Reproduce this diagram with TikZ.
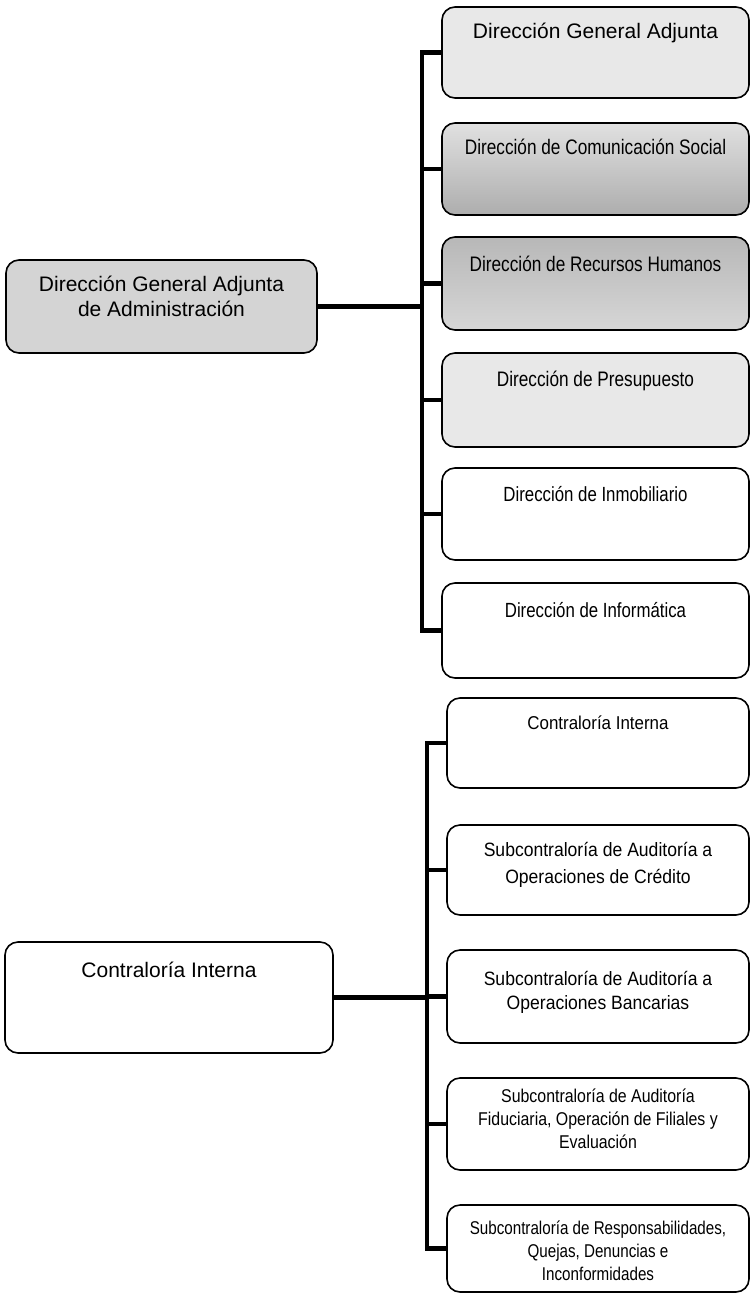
\documentclass[tikz,border=0pt]{standalone}
\usepackage{fontspec}
\setmainfont{Liberation Sans}
% narrow cuts of the same face
\newfontfamily\narrowA[FakeStretch=0.82]{Liberation Sans}
\newfontfamily\narrowB[FakeStretch=0.86]{Liberation Sans}
\newfontfamily\narrowC[FakeStretch=0.91]{Liberation Sans}
% text block placed at the top of a box: height, width, top gap, text
\newcommand\orgtext[4]{\parbox[c][#1][t]{#2}{\centering\vspace*{#3}#4\par}}
\newcommand\fs[2]{\fontsize{#1}{#2}\selectfont}
\begin{document}
\begin{tikzpicture}[x=1pt,y=-1pt,
  box/.style={draw=black, line width=1.6pt, rounded corners=13pt, inner sep=0pt, fill=white},
  link/.style={draw=black, line width=4.5pt},
  light/.style={fill=black!9},
  mid/.style={fill=black!17}]
\useasboundingbox (0,0) rectangle (752,1294);

% ---- Dirección General Adjunta de Administración ----
\node[box, mid, minimum width=311pt, minimum height=93pt] (l1) at (161.5,306.5)
  {\orgtext{93pt}{300pt}{16pt}{\fs{21}{25}Dirección General Adjunta\\de Administración}};

\node[box, light, minimum width=307pt, minimum height=91pt] (r1) at (595.5,52.5)
  {\orgtext{91pt}{300pt}{16pt}{\fs{21}{25}Dirección General Adjunta}};
\node[box, top color=black!12, bottom color=black!32, minimum width=307pt, minimum height=92pt] (r2) at (595.5,169)
  {\orgtext{92pt}{300pt}{16pt}{\narrowA\fs{21}{25}Dirección de Comunicación Social}};
\node[box, top color=black!28, bottom color=black!16, minimum width=307pt, minimum height=93pt] (r3) at (595.5,283.5)
  {\orgtext{93pt}{300pt}{19pt}{\narrowA\fs{21}{25}Dirección de Recursos Humanos}};
\node[box, light, minimum width=307pt, minimum height=94pt] (r4) at (595.5,400)
  {\orgtext{94pt}{300pt}{18pt}{\narrowA\fs{21}{25}Dirección de Presupuesto}};
\node[box, minimum width=307pt, minimum height=92pt] (r5) at (595.5,514)
  {\orgtext{92pt}{300pt}{18pt}{\narrowA\fs{20.5}{25}Dirección de Inmobiliario}};
\node[box, minimum width=307pt, minimum height=95pt] (r6) at (595.5,630.5)
  {\orgtext{95pt}{300pt}{19pt}{\narrowA\fs{20.5}{25}Dirección de Informática}};

\coordinate (bt) at (422,0);
\draw[link] (r1.west) -- (r1.west -| bt) -- (r6.west -| bt) -- (r6.west);
\foreach \n in {r2,r3,r4,r5} \draw[link] (\n.west -| bt) -- (\n.west);
\draw[link] (l1.east) -- (l1.east -| bt);

% ---- Contraloría Interna ----
\node[box, minimum width=328pt, minimum height=111pt] (l2) at (169,997.5)
  {\orgtext{111pt}{320pt}{20pt}{\fs{21}{25}Contraloría Interna}};

\node[box, minimum width=302pt, minimum height=90pt] (r7) at (598,743)
  {\orgtext{90pt}{296pt}{18pt}{\narrowC\fs{18.6}{22}Contraloría Interna}};
\node[box, minimum width=302pt, minimum height=90pt] (r8) at (598,870)
  {\orgtext{90pt}{296pt}{17pt}{\narrowC\fs{19.3}{27}Subcontraloría de Auditoría a\\Operaciones de Crédito}};
\node[box, minimum width=302pt, minimum height=93pt] (r9) at (598,996.5)
  {\orgtext{93pt}{296pt}{21pt}{\narrowC\fs{19.3}{24}Subcontraloría de Auditoría a\\Operaciones Bancarias}};
\node[box, minimum width=302pt, minimum height=92pt] (r10) at (598,1124)
  {\orgtext{92pt}{296pt}{11pt}{\narrowB\fs{18.5}{23}Subcontraloría de Auditoría\\Fiduciaria, Operación de Filiales y\\Evaluación}};
\node[box, minimum width=302pt, minimum height=87pt] (r11) at (598,1248.5)
  {\orgtext{87pt}{296pt}{16pt}{\narrowA\fs{18.5}{23}Subcontraloría de Responsabilidades,\\Quejas, Denuncias e\\Inconformidades}};

\coordinate (bb) at (427,0);
\draw[link] (r7.west) -- (r7.west -| bb) -- (r11.west -| bb) -- (r11.west);
\foreach \n in {r8,r9,r10} \draw[link] (\n.west -| bb) -- (\n.west);
\draw[link] (l2.east) -- (l2.east -| bb);
\end{tikzpicture}
\end{document}
